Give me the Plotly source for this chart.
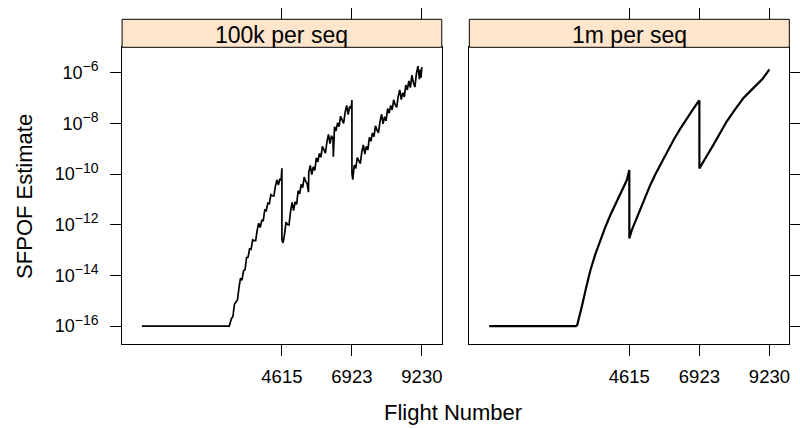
import plotly.graph_objects as go

# ---------------- data ----------------
panel_titles = ["100k per seq", "1m per seq"]
x_tick_vals = [4615, 6923, 9230]
y_tick_exponents = [-16, -14, -12, -10, -8, -6]

# 100k per seq : flight number and log10(SFPOF estimate)
flight_100k = [0, 2880,
               2950, 3000, 3050, 3100, 3150, 3200, 3250, 3300, 3350, 3400,
               3450, 3500, 3550, 3600, 3650, 3700, 3750, 3800, 3850, 3900,
               3950, 4000, 4050, 4100, 4150, 4200, 4250, 4300, 4350, 4400,
               4450, 4500, 4550, 4590, 4615,
               4616, 4650, 4700, 4750, 4800, 4850, 4900, 4950, 5000, 5050,
               5100, 5150, 5200, 5250, 5300, 5350, 5400, 5450, 5490, 5500,
               5550, 5600, 5650, 5700, 5750, 5800, 5850, 5900, 5950, 6000,
               6050, 6100, 6150, 6200, 6250, 6300, 6311, 6350, 6400, 6450,
               6500, 6550, 6600, 6650, 6700, 6750, 6800, 6850, 6900, 6923,
               6924, 6950, 7000, 7050, 7100, 7150, 7200, 7250, 7300, 7350,
               7400, 7450, 7500, 7550, 7600, 7650, 7700, 7750, 7800, 7850,
               7900, 7950, 8000, 8050, 8100, 8150, 8200, 8250, 8300, 8350,
               8400, 8450, 8500, 8550, 8600, 8650, 8700, 8750, 8800, 8850,
               8900, 8950, 9000, 9050, 9100, 9150, 9180, 9200, 9230]
log_sfpof_100k = [-16.0, -16.0,
                  -15.71, -15.62, -15.14, -15.06, -14.97, -14.48, -14.11, -14.19, -13.82, -13.77,
                  -13.30, -13.28, -12.95, -12.97, -12.60, -12.63, -12.63, -12.22, -11.94, -12.11,
                  -11.83, -11.84, -11.42, -11.45, -11.15, -11.17, -10.82, -10.86, -10.87, -10.49,
                  -10.23, -10.43, -10.19, -10.25, -9.77,
                  -12.60, -12.72, -12.40, -11.90, -11.99, -12.01, -11.48, -11.12, -11.44, -11.10,
                  -11.20, -10.66, -10.78, -10.41, -10.54, -10.12, -10.29, -10.39, -10.72, -9.94,
                  -9.66, -10.02, -9.72, -9.86, -9.36, -9.52, -9.19, -9.34, -8.91, -9.08,
                  -9.18, -8.72, -8.44, -8.80, -8.49, -8.63, -9.32, -8.14, -8.30, -7.98,
                  -8.13, -7.72, -7.89, -8.00, -7.56, -7.29, -7.66, -7.33, -7.42, -7.08,
                  -9.97, -10.22, -9.65, -9.78, -9.35, -9.51, -9.59, -9.13, -8.85, -9.21,
                  -8.91, -9.05, -8.55, -8.71, -8.38, -8.53, -8.10, -8.27, -8.37, -7.92,
                  -7.64, -8.02, -7.74, -7.90, -7.42, -7.60, -7.30, -7.47, -7.07, -7.26,
                  -7.37, -6.94, -6.68, -7.06, -6.79, -6.96, -6.49, -6.68, -6.33, -6.59,
                  -6.10, -6.39, -6.57, -6.04, -5.74, -6.26, -5.87, -6.20, -5.78]

# 1m per seq : flight number and log10(SFPOF estimate)
flight_1m = [0, 2850, 2899, 2980, 3063, 3200, 3335, 3500, 3664, 3830, 3992, 4130,
             4267, 4431, 4530, 4615,
             4616, 4700, 4850, 5000, 5140, 5300, 5470, 5632, 5850, 6072, 6290,
             6508, 6700, 6892, 6923,
             6924, 7050, 7200, 7384, 7600, 7821, 8100, 8368, 8600, 8805, 9000, 9230]
log_sfpof_1m = [-16.0, -16.0, -15.96, -15.60, -15.17, -14.45, -13.79, -13.15, -12.60, -12.08,
                -11.62, -11.27, -10.96, -10.56, -10.25, -9.84,
                -12.54, -12.20, -11.75, -11.30, -10.90, -10.45, -10.02, -9.64, -9.14, -8.66,
                -8.22, -7.80, -7.47, -7.14, -7.10,
                -9.78, -9.50, -9.22, -8.85, -8.38, -7.93, -7.45, -7.01, -6.73, -6.49, -6.25,
                -5.87]

# ---------------- figure ----------------
W, H = 800, 428
FONT = "Liberation Sans, Arial, Helvetica, sans-serif"

def px_x(p):
    return p / W

def px_y(p):
    return 1 - p / H

panel_x = [(122.7, 444.0), (471.7, 793.3)]
plot_top, plot_bot = 47.3, 344.3
strip_top = 19.3
x_range = [-654, 9886]
y_range = [-16.72, -5.0]

sfpof_100k = [10 ** v for v in log_sfpof_100k]
sfpof_1m = [10 ** v for v in log_sfpof_1m]

fig = go.Figure()
fig.add_trace(go.Scatter(x=flight_100k, y=sfpof_100k, mode="lines",
                         line=dict(color="black", width=1.7), xaxis="x", yaxis="y",
                         showlegend=False, hoverinfo="skip"))
fig.add_trace(go.Scatter(x=flight_1m, y=sfpof_1m, mode="lines",
                         line=dict(color="black", width=2.2), xaxis="x2", yaxis="y2",
                         showlegend=False, hoverinfo="skip"))
# invisible traces to carry the top tick axes
fig.add_trace(go.Scatter(x=flight_100k, y=sfpof_100k, mode="lines", opacity=0,
                         line=dict(width=0), xaxis="x3", yaxis="y",
                         showlegend=False, hoverinfo="skip"))
fig.add_trace(go.Scatter(x=flight_1m, y=sfpof_1m, mode="lines", opacity=0,
                         line=dict(width=0), xaxis="x4", yaxis="y2",
                         showlegend=False, hoverinfo="skip"))

ydom = [px_y(plot_bot), px_y(plot_top)]
ytext = ["10<sup><span style='font-size:14px'>\u2212%d</span></sup>" % (-e)
         for e in y_tick_exponents]
yvals = [10.0 ** e for e in y_tick_exponents]

common_x = dict(range=x_range, tickvals=x_tick_vals, ticktext=[str(v) for v in x_tick_vals],
                ticks="outside", ticklen=11, tickwidth=1, tickcolor="black",
                showline=True, linecolor="black", linewidth=1, mirror=True,
                showgrid=False, zeroline=False,
                tickfont=dict(family=FONT, size=18.5, color="black"),
                ticklabelstandoff=4)
common_y = dict(type="log", range=y_range, tickvals=yvals, ticktext=ytext,
                ticks="outside", ticklen=11, tickwidth=1, tickcolor="black",
                showline=True, linecolor="black", linewidth=1, mirror=True,
                showgrid=False, zeroline=False, domain=ydom,
                tickfont=dict(family=FONT, size=18, color="black"),
                ticklabelstandoff=8)

top_axis = dict(range=x_range, tickvals=x_tick_vals, ticks="outside", ticklen=11,
                tickwidth=1, tickcolor="black", showticklabels=False, showline=False,
                showgrid=False, zeroline=False, side="top", anchor="free",
                position=px_y(strip_top))

fig.update_layout(
    width=W, height=H, margin=dict(l=0, r=0, t=0, b=0),
    paper_bgcolor="white", plot_bgcolor="white",
    xaxis=dict(common_x, domain=[px_x(panel_x[0][0]), px_x(panel_x[0][1])], anchor="y"),
    xaxis2=dict(common_x, domain=[px_x(panel_x[1][0]), px_x(panel_x[1][1])], anchor="y2"),
    xaxis3=dict(top_axis, overlaying="x"),
    xaxis4=dict(top_axis, overlaying="x2"),
    yaxis=dict(common_y, anchor="x", side="left"),
    yaxis2=dict(common_y, anchor="x2", side="right", showticklabels=False),
    showlegend=False,
)

# strips
for (x0, x1), title in zip(panel_x, panel_titles):
    fig.add_shape(type="rect", xref="paper", yref="paper",
                  x0=px_x(x0), x1=px_x(x1), y0=px_y(plot_top), y1=px_y(strip_top),
                  fillcolor="#FFE5CC", line=dict(color="black", width=1), layer="above")
    fig.add_annotation(x=px_x((x0 + x1) / 2), y=px_y(34.5), xref="paper", yref="paper",
                       text=title, showarrow=False, xanchor="center", yanchor="middle",
                       font=dict(family=FONT, size=23, color="black"))

fig.add_annotation(x=px_x(455), y=px_y(412), xref="paper", yref="paper",
                   text="Flight Number", showarrow=False, xanchor="center", yanchor="middle",
                   font=dict(family=FONT, size=22, color="black"))
fig.add_annotation(x=px_x(25), y=px_y(196), xref="paper", yref="paper",
                   text="SFPOF Estimate", showarrow=False, textangle=-90,
                   xanchor="center", yanchor="middle",
                   font=dict(family=FONT, size=22, color="black"))

fig.write_html("out.html")
